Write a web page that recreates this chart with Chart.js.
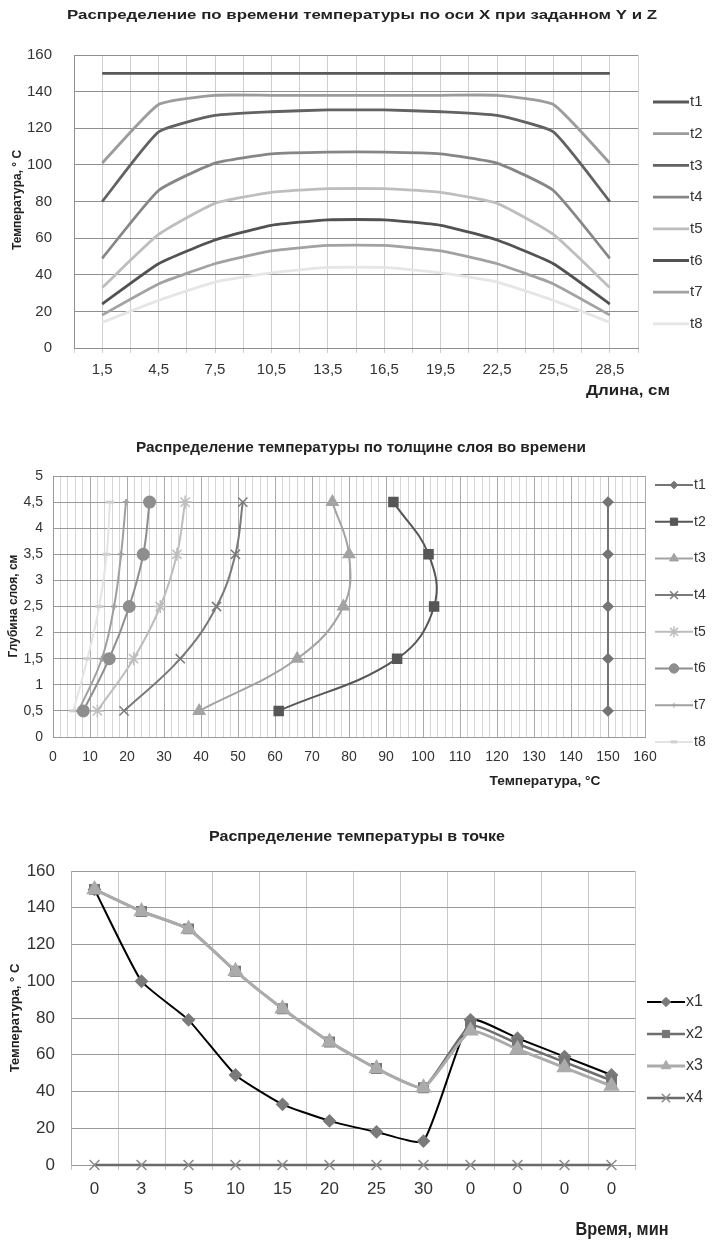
<!DOCTYPE html>
<html>
<head>
<meta charset="utf-8">
<title>Распределение температуры</title>
<script src="https://cdn.jsdelivr.net/npm/chart.js@4.4.1/dist/chart.umd.min.js"></script>
<style>
    html, body { margin: 0; padding: 0; background: #fff; }
    #page { position: relative; width: 712px; height: 1242px; }
    .box { position: absolute; left: 0; width: 712px; }
</style>
</head>
<body>
<div id="page">
    <div class="box" style="top:0;height:410px"><canvas id="chartLength" width="712" height="410"></canvas></div>
    <div class="box" style="top:420px;height:380px"><canvas id="chartLayer" width="712" height="380"></canvas></div>
    <div class="box" style="top:810px;height:432px"><canvas id="chartPoint" width="712" height="432"></canvas></div>
</div>
<script>
// ---- Chart 1: temperature along X ----
const lengthCm = [1.5, 4.5, 7.5, 10.5, 13.5, 16.5, 19.5, 22.5, 25.5, 28.5];
const lenT1 = [150, 150, 150, 150, 150, 150, 150, 150, 150, 150];
const lenT2 = [101, 133, 138, 138, 138, 138, 138, 138, 133, 101];
const lenT3 = [80, 118, 127, 129, 130, 130, 129, 127, 118, 80];
const lenT4 = [49, 86, 101, 106, 107, 107, 106, 101, 86, 49];
const lenT5 = [33, 62, 79, 85, 87, 87, 85, 79, 62, 33];
const lenT6 = [24, 46, 59, 67, 70, 70, 67, 59, 46, 24];
const lenT7 = [18, 35, 46, 53, 56, 56, 53, 46, 35, 18];
const lenT8 = [14, 26, 36, 41, 44, 44, 41, 36, 26, 14];

// ---- Chart 2: temperature over layer depth ----
const depthCm = [0.5, 1.5, 2.5, 3.5, 4.5];
const layT1 = [150, 150, 150, 150, 150];
const layT2 = [61, 93, 103, 101.5, 92];
const layT3 = [39.5, 66, 78.5, 80, 75.5];
const layT4 = [19.2, 34.4, 44.2, 49.3, 51.3];
const layT5 = [12, 21.8, 29, 33.5, 35.7];
const layT6 = [8.2, 15.2, 20.6, 24.4, 26.1];
const layT7 = [6.9, 13.2, 16.5, 18.4, 19.7];
const layT8 = [5.5, 9.3, 12.5, 14.5, 15.4];

// ---- Chart 3: temperature at a point ----
const timeLabels = ['0', '3', '5', '10', '15', '20', '25', '30', '0', '0', '0', '0'];
const pointX1 = [150, 100, 79, 49, 33, 24, 18, 13, 79, 69, 59, 49];
const pointX2 = [150, 138, 128.5, 105.5, 85, 67, 52.5, 42, 76, 66, 56, 46];
const pointX3 = [150, 138, 128.5, 105.5, 85, 67, 52.5, 42, 73, 63, 53, 43];
const pointX4 = [0, 0, 0, 0, 0, 0, 0, 0, 0, 0, 0, 0];

const SANS = "'Liberation Sans', Arial, sans-serif";
const NARROW = "'Liberation Sans Narrow', 'Liberation Sans', Arial, sans-serif";
Chart.defaults.font.family = NARROW;
Chart.defaults.color = '#333';
Chart.defaults.animation = false;

const comma = v => String(v).replace('.', ',');
const pairs = (xs, ys) => xs.map((x, i) => ({ x: x, y: ys[i] }));

// free text (titles, axis names), optionally stretched to a width
const textPlugin = {
    id: 'extraText',
    afterDraw(chart, args, opts) {
        const ctx = chart.ctx;
        (opts.items || []).forEach(it => {
            ctx.save();
            ctx.font = it.font;
            ctx.fillStyle = it.color || '#222';
            ctx.textAlign = 'center';
            ctx.textBaseline = 'middle';
            ctx.translate(it.x, it.y);
            if (it.rotate) ctx.rotate(it.rotate * Math.PI / 180);
            if (it.w) ctx.scale(it.w / ctx.measureText(it.text).width, 1);
            ctx.fillText(it.text, 0, 0);
            ctx.restore();
        });
    }
};

// Excel-like legend on the right: line + marker + name
const sideLegend = {
    id: 'sideLegend',
    afterDraw(chart, args, opts) {
        const ctx = chart.ctx;
        chart.data.datasets.forEach((ds, i) => {
            const y = opts.top + i * opts.gap;
            ctx.save();
            ctx.strokeStyle = ds.borderColor;
            ctx.lineWidth = ds.borderWidth;
            ctx.beginPath();
            ctx.moveTo(opts.x, y);
            ctx.lineTo(opts.x + opts.len, y);
            ctx.stroke();
            if (ds.pointRadius > 0) {
                ctx.fillStyle = ds.pointBackgroundColor;
                ctx.strokeStyle = ds.pointBorderColor;
                ctx.lineWidth = ds.pointBorderWidth || 1;
                Chart.helpers.drawPoint(ctx, {
                    pointStyle: ds.pointStyle,
                    radius: ds.pointRadius * 0.85,
                    borderWidth: ds.pointBorderWidth || 1,
                    rotation: ds.pointRotation || 0
                }, opts.x + opts.len / 2, y);
            }
            ctx.fillStyle = opts.color || '#333';
            ctx.font = opts.font;
            ctx.textAlign = 'left';
            ctx.textBaseline = 'middle';
            ctx.fillText(ds.label, opts.x + opts.len + 1, y);
            ctx.restore();
        });
    }
};

function lineSet(label, data, color, width, extra) {
    return Object.assign({
        label: label,
        data: data,
        borderColor: color,
        backgroundColor: color,
        borderWidth: width,
        pointRadius: 0,
        pointBackgroundColor: color,
        pointBorderColor: color,
        fill: false,
        clip: false
    }, extra || {});
}

/**
 * Chart 1
 */
new Chart(document.getElementById('chartLength'), {
    type: 'line',
    data: {
        datasets: [
            lineSet('t1', pairs(lengthCm, lenT1), '#595959', 2.8),
            lineSet('t2', pairs(lengthCm, lenT2), '#9c9c9c', 2.8),
            lineSet('t3', pairs(lengthCm, lenT3), '#626262', 2.8),
            lineSet('t4', pairs(lengthCm, lenT4), '#868686', 2.8),
            lineSet('t5', pairs(lengthCm, lenT5), '#bebebe', 2.8),
            lineSet('t6', pairs(lengthCm, lenT6), '#525252', 2.8),
            lineSet('t7', pairs(lengthCm, lenT7), '#a2a2a2', 2.8),
            lineSet('t8', pairs(lengthCm, lenT8), '#e6e6e6', 2.8)
        ]
    },
    options: {
        responsive: false,
        layout: { padding: { left: 0, top: 55, right: 712 - 638, bottom: 0 } },
        elements: { line: { tension: 0.15 } },
        scales: {
            x: {
                type: 'linear', min: 0, max: 30,
                afterFit: s => { s.height = 410 - 348; },
                ticks: {
                    stepSize: 1.5, maxTicksLimit: 100, autoSkip: false, maxRotation: 0,
                    padding: 8, font: { size: 15 }, color: '#333',
                    callback: v => {
                        const k = (v - 1.5) / 3;
                        return Math.abs(k - Math.round(k)) < 1e-6 ? comma(v) : '';
                    }
                },
                grid: { color: '#cfcfcf', tickLength: 5 },
                border: { color: '#8f8f8f' }
            },
            y: {
                min: 0, max: 160,
                afterFit: s => { s.width = 74; },
                ticks: { stepSize: 20, padding: 22, font: { size: 15 }, color: '#333' },
                grid: { color: '#8f8f8f', drawTicks: false },
                border: { color: '#8f8f8f' }
            }
        },
        plugins: {
            legend: { display: false },
            tooltip: { enabled: false },
            sideLegend: { x: 653, top: 102, gap: 31.7, len: 36, font: '15px ' + NARROW },
            extraText: {
                items: [
                    { text: 'Распределение по времени температуры по оси X при заданном Y и Z', x: 362, y: 15, font: 'bold 13px ' + SANS, w: 590 },
                    { text: 'Температура, ° С', x: 18, y: 200, rotate: -90, font: 'bold 12px ' + SANS },
                    { text: 'Длина, см', x: 628, y: 391, font: 'bold 14px ' + NARROW, w: 84 }
                ]
            }
        }
    },
    plugins: [textPlugin, sideLegend]
});

/**
 * Chart 2
 */
new Chart(document.getElementById('chartLayer'), {
    type: 'line',
    data: {
        datasets: [
            lineSet('t1', pairs(layT1, depthCm), '#747474', 2, { pointStyle: 'rectRot', pointRadius: 4.5 }),
            lineSet('t2', pairs(layT2, depthCm), '#565656', 2, { pointStyle: 'rect', pointRadius: 6 }),
            lineSet('t3', pairs(layT3, depthCm), '#a3a3a3', 2, { pointStyle: 'triangle', pointRadius: 6 }),
            lineSet('t4', pairs(layT4, depthCm), '#7a7a7a', 2, { pointStyle: 'crossRot', pointRadius: 6.5, pointBorderWidth: 1.5 }),
            lineSet('t5', pairs(layT5, depthCm), '#bdbdbd', 2, { pointStyle: 'star', pointRadius: 6.5, pointBorderWidth: 1.5 }),
            lineSet('t6', pairs(layT6, depthCm), '#8e8e8e', 2, { pointStyle: 'circle', pointRadius: 5.5 }),
            lineSet('t7', pairs(layT7, depthCm), '#a0a0a0', 2, { pointStyle: 'cross', pointRadius: 3 }),
            lineSet('t8', pairs(layT8, depthCm), '#e4e4e4', 2, { pointStyle: 'line', pointRadius: 4, pointBorderWidth: 3, pointBorderColor: '#cfcfcf' })
        ]
    },
    options: {
        responsive: false,
        layout: { padding: { left: 0, top: 56, right: 712 - 645, bottom: 0 } },
        elements: { line: { tension: 0.4 } },
        scales: {
            x: {
                type: 'linear', min: 0, max: 160,
                afterFit: s => { s.height = 380 - 317; },
                ticks: {
                    stepSize: 2, maxTicksLimit: 100, autoSkip: false, maxRotation: 0,
                    padding: 12, font: { size: 14 }, color: '#333',
                    callback: v => (v % 10 === 0 ? String(v) : '')
                },
                grid: {
                    drawTicks: false,
                    color: c => (c.tick && c.tick.value % 10 === 0 ? '#ababab' : '#d6d6d6')
                },
                border: { color: '#999' }
            },
            y: {
                min: 0, max: 5,
                afterFit: s => { s.width = 53; },
                ticks: { stepSize: 0.5, padding: 10, font: { size: 14 }, color: '#333', callback: v => comma(v) },
                grid: { color: '#999', drawTicks: false },
                border: { color: '#999' }
            }
        },
        plugins: {
            legend: { display: false },
            tooltip: { enabled: false },
            sideLegend: { x: 655, top: 65, gap: 36.7, len: 38, font: '14px ' + NARROW },
            extraText: {
                items: [
                    { text: 'Распределение температуры по толщине слоя во времени', x: 361, y: 28, font: 'bold 15px ' + NARROW, w: 450 },
                    { text: 'Глубина слоя, см', x: 14, y: 186, rotate: -90, font: 'bold 12px ' + SANS },
                    { text: 'Температура, °С', x: 545, y: 362, font: 'bold 12px ' + NARROW, w: 111 }
                ]
            }
        }
    },
    plugins: [textPlugin, sideLegend]
});

/**
 * Chart 3
 */
new Chart(document.getElementById('chartPoint'), {
    type: 'line',
    data: {
        labels: timeLabels,
        datasets: [
            lineSet('x1', pointX1, '#000000', 2, { pointStyle: 'rectRot', pointRadius: 5.5, pointBackgroundColor: '#7a7a7a', pointBorderColor: '#7a7a7a', order: 4 }),
            lineSet('x2', pointX2, '#6e6e6e', 2.5, { pointStyle: 'rect', pointRadius: 6, pointBackgroundColor: '#757575', pointBorderColor: '#757575', order: 3 }),
            lineSet('x3', pointX3, '#ababab', 3, { pointStyle: 'triangle', pointRadius: 6.5, order: 2 }),
            lineSet('x4', pointX4, '#6a6a6a', 2.5, { pointStyle: 'crossRot', pointRadius: 7, pointBorderWidth: 1.5, pointBorderColor: '#8a8a8a', order: 1 })
        ]
    },
    options: {
        responsive: false,
        layout: { padding: { left: 0, top: 61, right: 712 - 635, bottom: 0 } },
        elements: { line: { tension: 0.15 } },
        scales: {
            x: {
                offset: true,
                afterFit: s => { s.height = 432 - 355; },
                ticks: { autoSkip: false, maxRotation: 0, padding: 9, font: { size: 17 }, color: '#333' },
                grid: { offset: true, color: '#c8c8c8', tickLength: 5 },
                border: { color: '#999' }
            },
            y: {
                min: 0, max: 160,
                afterFit: s => { s.width = 71; },
                ticks: { stepSize: 20, padding: 16, font: { size: 17 }, color: '#333' },
                grid: { color: '#9a9a9a', drawTicks: false },
                border: { color: '#aaa' }
            }
        },
        plugins: {
            legend: { display: false },
            tooltip: { enabled: false },
            sideLegend: { x: 647, top: 192, gap: 32, len: 38, font: '16px ' + NARROW },
            extraText: {
                items: [
                    { text: 'Распределение температуры в точке', x: 357, y: 27, font: 'bold 15px ' + NARROW, w: 296 },
                    { text: 'Температура, ° С', x: 15, y: 208, rotate: -90, font: 'bold 13px ' + SANS },
                    { text: 'Время, мин', x: 622, y: 420, font: 'bold 19px ' + NARROW, w: 93 }
                ]
            }
        }
    },
    plugins: [textPlugin, sideLegend]
});
</script>
</body>
</html>
